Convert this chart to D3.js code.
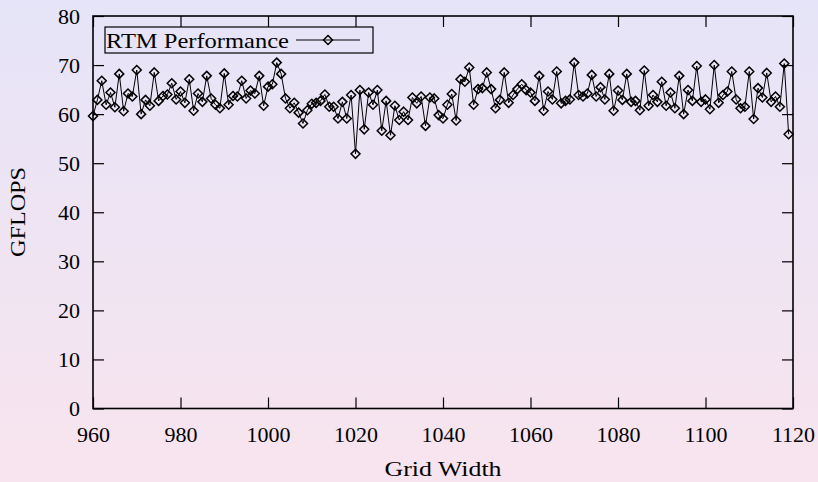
<!DOCTYPE html>
<html>
<head>
<meta charset="utf-8">
<script src="https://cdn.jsdelivr.net/npm/d3@7"></script>
<style>
  body { margin: 0; padding: 0; overflow: hidden; }
  svg text { font-family: "Liberation Serif", "DejaVu Serif", serif; fill: #000; }
</style>
</head>
<body>
<script>
// grid widths 960..1119, one measurement each
var gridWidth = d3.range(960, 1120);
var gflops = [
    59.6, 62.9, 66.8, 61.9, 64.4, 61.4, 68.2, 60.6, 64.2, 63.6, 69.0, 60.0,
    62.9, 61.7, 68.5, 62.7, 63.7, 64.0, 66.3, 63.0, 64.6, 62.3, 67.1, 60.7,
    64.2, 62.5, 67.8, 63.2, 61.9, 61.2, 68.3, 61.9, 63.7, 63.6, 66.8, 63.2,
    64.8, 64.2, 67.8, 61.7, 65.6, 66.1, 70.5, 68.2, 63.2, 61.2, 62.3, 60.3,
    58.1, 60.8, 62.1, 62.3, 62.7, 64.0, 61.5, 61.5, 59.1, 62.5, 59.1, 63.9,
    51.9, 64.9, 56.9, 64.4, 61.9, 64.9, 56.6, 62.7, 55.7, 61.7, 58.8, 60.5,
    58.8, 63.4, 62.2, 63.6, 57.6, 63.4, 63.2, 59.8, 59.1, 61.9, 64.1, 58.7,
    67.1, 66.6, 69.5, 61.9, 65.1, 65.3, 68.5, 65.1, 61.2, 62.9, 68.5, 62.3,
    63.9, 65.1, 66.1, 64.9, 64.4, 62.7, 67.8, 60.7, 64.6, 63.0, 68.7, 62.2,
    62.7, 63.0, 70.5, 63.9, 63.6, 64.2, 68.0, 63.6, 65.5, 63.0, 68.2, 60.7,
    64.8, 62.9, 68.2, 62.5, 62.7, 60.8, 68.9, 61.7, 63.9, 62.5, 66.6, 61.7,
    64.4, 61.2, 67.8, 60.0, 64.9, 62.7, 69.8, 62.5, 63.0, 61.0, 70.0, 62.3,
    63.9, 64.6, 68.7, 63.0, 61.2, 61.5, 68.7, 59.0, 65.3, 63.4, 68.4, 62.5,
    63.6, 61.5, 70.3, 55.9
];
var xTicks = [960, 980, 1000, 1020, 1040, 1060, 1080, 1100, 1120];
var yTicks = [0, 10, 20, 30, 40, 50, 60, 70, 80];
var seriesName = "RTM Performance";

var W = 818, H = 482;
var plotL = 93, plotR = 793, plotT = 16, plotB = 408.5;
var tickLen = 11;

var svg = d3.select("body").append("svg")
    .attr("width", W)
    .attr("height", H);

// soft lavender -> pink backdrop
var grad = svg.append("defs").append("linearGradient")
    .attr("id", "bg").attr("x1", 0).attr("y1", 0).attr("x2", 0).attr("y2", 1);
grad.append("stop").attr("offset", "0%").attr("stop-color", "#e6e4f8");
grad.append("stop").attr("offset", "100%").attr("stop-color", "#f8e4ee");
svg.append("rect").attr("width", W).attr("height", H).attr("fill", "url(#bg)");

var x = d3.scaleLinear().domain([960, 1120]).range([plotL, plotR]);
var y = d3.scaleLinear().domain([0, 80]).range([plotB, plotT]);

function styleAxis(g) {
    g.select(".domain").remove();
    g.selectAll(".tick line").attr("stroke", "#000").attr("stroke-width", 1.2);
    g.selectAll(".tick text").style("font-size", "22px");
}

svg.append("g")
    .attr("transform", "translate(0," + plotB + ")")
    .call(d3.axisBottom(x).tickValues(xTicks).tickFormat(d3.format("d"))
        .tickSizeInner(-tickLen).tickSizeOuter(0).tickPadding(18))
    .call(styleAxis);
svg.append("g")
    .attr("transform", "translate(0," + plotT + ")")
    .call(d3.axisTop(x).tickValues(xTicks).tickSizeInner(-tickLen).tickSizeOuter(0).tickFormat(""))
    .call(styleAxis);
svg.append("g")
    .attr("transform", "translate(" + plotL + ",0)")
    .call(d3.axisLeft(y).tickValues(yTicks).tickSizeInner(-tickLen).tickSizeOuter(0).tickPadding(13))
    .call(styleAxis);
svg.append("g")
    .attr("transform", "translate(" + plotR + ",0)")
    .call(d3.axisRight(y).tickValues(yTicks).tickSizeInner(-tickLen).tickSizeOuter(0).tickFormat(""))
    .call(styleAxis);

// frame
svg.append("rect")
    .attr("x", plotL).attr("y", plotT)
    .attr("width", plotR - plotL).attr("height", plotB - plotT)
    .attr("fill", "none").attr("stroke", "#000").attr("stroke-width", 1.6);

var pts = gridWidth.map(function (w, i) { return [w, gflops[i]]; });

var line = d3.line()
    .x(function (d) { return x(d[0]); })
    .y(function (d) { return y(d[1]); });

svg.append("path")
    .datum(pts)
    .attr("d", line)
    .attr("fill", "none")
    .attr("stroke", "#000")
    .attr("stroke-width", 1);

var diamond = "M0,-4.5L4.5,0L0,4.5L-4.5,0Z";
svg.selectAll(".pt")
    .data(pts)
    .enter().append("path")
    .attr("class", "pt")
    .attr("d", diamond)
    .attr("transform", function (d) { return "translate(" + x(d[0]) + "," + y(d[1]) + ")"; })
    .attr("fill", "none")
    .attr("stroke", "#000")
    .attr("stroke-width", 1.5);

// legend
var leg = svg.append("g");
leg.append("rect")
    .attr("x", 105).attr("y", 27).attr("width", 268).attr("height", 26)
    .attr("fill", "none").attr("stroke", "#000").attr("stroke-width", 1.2);
leg.append("text")
    .attr("x", 106).attr("y", 48)
    .attr("textLength", 183).attr("lengthAdjust", "spacingAndGlyphs")
    .style("font-size", "22px")
    .text(seriesName);
leg.append("line")
    .attr("x1", 296).attr("x2", 360).attr("y1", 40).attr("y2", 40)
    .attr("stroke", "#000").attr("stroke-width", 1);
leg.append("path")
    .attr("d", diamond)
    .attr("transform", "translate(328,40)")
    .attr("fill", "none").attr("stroke", "#000").attr("stroke-width", 1.5);

// axis titles
svg.append("text")
    .attr("x", 443).attr("y", 476)
    .attr("text-anchor", "middle")
    .attr("textLength", 117).attr("lengthAdjust", "spacingAndGlyphs")
    .style("font-size", "22px")
    .text("Grid Width");
svg.append("text")
    .attr("transform", "translate(25,212) rotate(-90)")
    .attr("text-anchor", "middle")
    .attr("textLength", 90).attr("lengthAdjust", "spacingAndGlyphs")
    .style("font-size", "22px")
    .text("GFLOPS");
</script>
</body>
</html>
